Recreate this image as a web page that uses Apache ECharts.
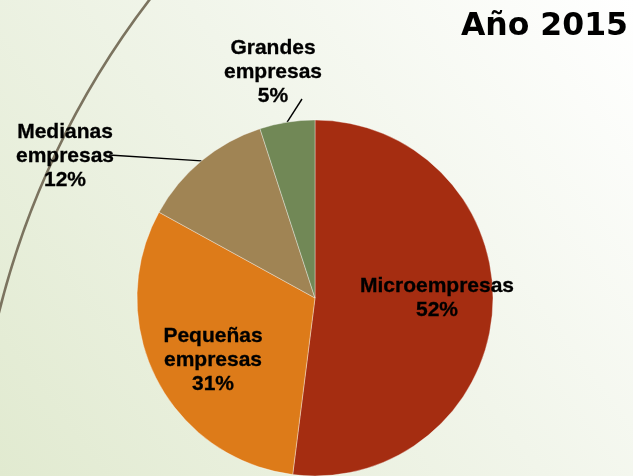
<!DOCTYPE html>
<html>
<head>
<meta charset="utf-8">
<script src="https://cdn.jsdelivr.net/npm/echarts@6/dist/echarts.min.js"></script>
<style>
  html, body { margin: 0; padding: 0; }
  #chart { width: 633px; height: 476px; }
</style>
</head>
<body>
<div id="chart"></div>
<script>
// data
const categories = ['Microempresas', 'Pequeñas\nempresas', 'Medianas\nempresas', 'Grandes\nempresas'];
const shares = [52, 31, 12, 5];
const colors = ['#A52D11', '#DD7B19', '#A08454', '#718856'];
const title = 'Año 2015';

// where each label sits (px), and where its leader line ends
const labelPos = [[437, 298], [213, 360], [65, 156], [273, 72]];
const lineEnd = [null, null, [109, 155], [302, 99]];

const chart = echarts.init(document.getElementById('chart'));

const option = {
  backgroundColor: new echarts.graphic.LinearGradient(0, 1, 1, 0, [
    { offset: 0, color: '#E1EAD0' },
    { offset: 0.55, color: '#F1F5EA' },
    { offset: 1, color: '#FFFFFF' }
  ]),
  title: {
    text: title,
    right: 0,
    top: 6,
    textStyle: {
      fontFamily: 'DejaVu Sans',
      fontWeight: 'bold',
      fontSize: 31.5,
      color: '#000'
    }
  },
  graphic: [{
    type: 'arc',
    z: 0,
    silent: true,
    shape: { cx: 824, cy: 517, r: 850, startAngle: -2.95, endAngle: -2.45 },
    style: { fill: null, stroke: '#7B735F', lineWidth: 2.6 }
  }],
  series: [{
    type: 'pie',
    center: [315, 298],
    radius: 178,
    startAngle: 90,
    clockwise: true,
    percentPrecision: 0,
    z: 2,
    itemStyle: { borderColor: 'rgba(255,255,255,0.45)', borderWidth: 0.8 },
    label: {
      formatter: '{b}\n{d}%',
      fontFamily: 'Liberation Sans',
      fontWeight: 'bold',
      fontSize: 21,
      lineHeight: 24,
      color: '#000',
      textBorderColor: '#000',
      textBorderWidth: 0.3,
      align: 'center'
    },
    labelLine: { lineStyle: { color: '#000', width: 1.4 }, length: 20, length2: 30 },
    labelLayout: function (p) {
      const i = p.dataIndex;
      const out = { x: labelPos[i][0], y: labelPos[i][1], align: 'center', verticalAlign: 'middle' };
      if (lineEnd[i] && p.labelLinePoints) {
        out.labelLinePoints = [p.labelLinePoints[0], lineEnd[i], lineEnd[i]];
      }
      return out;
    },
    data: categories.map((name, i) => ({
      name: name,
      value: shares[i],
      itemStyle: { color: colors[i] },
      label: { position: lineEnd[i] ? 'outside' : 'inside' },
      labelLine: { show: !!lineEnd[i] }
    }))
  }]
};

chart.setOption(option);
</script>
</body>
</html>
